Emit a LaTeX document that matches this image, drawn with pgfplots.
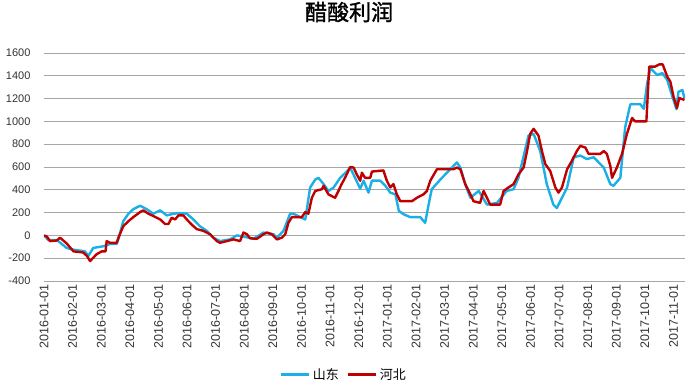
\documentclass[border=0pt]{standalone}
\usepackage{fontspec}
\setmainfont{Liberation Sans}
\newfontfamily\cjk{Noto Sans CJK SC}
\newfontfamily\cjktitle[FakeBold=1.5]{Noto Sans CJK SC}
\usepackage{pgfplots}
\pgfplotsset{compat=1.18}
\definecolor{sdblue}{RGB}{26,175,230}
\definecolor{hbred}{RGB}{192,0,0}
\definecolor{gridgray}{RGB}{166,166,166}
\begin{document}
\begin{tikzpicture}
\begin{axis}[
  at={(0pt,0pt)}, anchor=south west,
  scale only axis, width=641pt, height=228pt,
  xmin=0, xmax=22.4, ymin=-400, ymax=1600,
  ytick={-400,-200,...,1600},
  xtick={0,...,22},
  xticklabels={2016-01-01,2016-02-01,2016-03-01,2016-04-01,2016-05-01,2016-06-01,2016-07-01,2016-08-01,2016-09-01,2016-10-01,2016-11-01,2016-12-01,2017-01-01,2017-02-01,2017-03-01,2017-04-01,2017-05-01,2017-06-01,2017-07-01,2017-08-01,2017-09-01,2017-10-01,2017-11-01},
  axis line style={draw=none},
  major tick length=0pt,
  ymajorgrids, grid style={gridgray, line width=0.8pt},
  tick label style={font=\fontsize{11}{13}\selectfont, text=black!80},
  xticklabel style={rotate=90, anchor=east, font=\fontsize{12.5}{14}\selectfont},
  yticklabel style={xshift=-10pt},
  /pgf/number format/assume math mode=true,
  /pgf/number format/set thousands separator={},
  title={\cjktitle\fontsize{22}{24}\selectfont 醋酸利润},
  title style={at={(axis description cs:0.476,1)}, anchor=center, yshift=35pt},
  legend style={at={(axis description cs:0.468,0)}, anchor=center, yshift=-94pt, draw=none, legend columns=2, font=\cjk\fontsize{13}{15}\selectfont, /tikz/every even column/.append style={column sep=6pt}},
  legend image code/.code={\draw[#1, line width=3pt] (0pt,0pt) -- (28pt,0pt);},
  every axis plot/.append style={line width=2.4pt, line join=round},
]
\addplot[sdblue] coordinates {(0.00,0) (0.15,-40) (0.45,-40) (0.62,-75) (0.79,-110) (1.03,-125) (1.43,-140) (1.55,-180) (1.72,-110) (2.08,-95) (2.31,-75) (2.54,-75) (2.60,-35) (2.77,125) (2.95,190) (3.12,230) (3.36,260) (3.59,230) (3.82,190) (4.06,220) (4.29,175) (4.52,190) (4.76,195) (4.99,190) (5.22,140) (5.45,80) (5.69,40) (5.92,-20) (6.15,-50) (6.50,-35) (6.74,0) (6.97,-10) (7.32,-30) (7.67,25) (8.02,10) (8.14,-20) (8.37,40) (8.60,190) (8.72,190) (8.95,160) (9.13,140) (9.30,420) (9.48,490) (9.59,505) (9.77,450) (9.94,390) (10.12,420) (10.35,505) (10.58,560) (10.70,595) (11.05,410) (11.17,480) (11.34,375) (11.46,480) (11.75,480) (11.93,435) (12.10,375) (12.28,360) (12.40,215) (12.57,185) (12.80,160) (13.15,160) (13.32,110) (13.44,270) (13.55,405) (13.85,490) (14.08,550) (14.43,640) (14.55,595) (14.72,450) (14.90,330) (15.19,390) (15.48,270) (15.83,285) (16.17,390) (16.41,405) (16.58,505) (16.76,695) (16.93,875) (17.11,890) (17.34,740) (17.57,450) (17.80,270) (17.92,240) (18.10,330) (18.28,420) (18.51,685) (18.74,700) (18.97,670) (19.21,685) (19.56,595) (19.79,450) (19.90,435) (20.14,505) (20.31,950) (20.49,1150) (20.84,1150) (20.96,1110) (21.08,1336) (21.19,1468) (21.43,1407) (21.61,1424) (21.78,1363) (21.96,1216) (22.10,1108) (22.17,1260) (22.31,1275) (22.38,1205)};
\addlegendentry{山东}
\addplot[hbred] coordinates {(0.00,0) (0.10,-10) (0.21,-50) (0.45,-45) (0.56,-20) (0.79,-70) (1.03,-140) (1.37,-150) (1.50,-180) (1.61,-225) (1.84,-165) (2.02,-140) (2.15,-140) (2.19,-50) (2.31,-65) (2.54,-65) (2.60,-20) (2.77,80) (2.95,125) (3.12,160) (3.36,205) (3.47,220) (3.65,190) (3.82,170) (4.06,140) (4.23,100) (4.35,100) (4.46,155) (4.58,140) (4.70,175) (4.87,175) (4.99,140) (5.16,95) (5.34,55) (5.57,40) (5.80,10) (6.04,-50) (6.15,-65) (6.39,-50) (6.62,-35) (6.85,-50) (6.97,25) (7.09,10) (7.20,-25) (7.44,-30) (7.67,10) (7.79,25) (7.96,10) (8.14,-35) (8.31,-20) (8.43,10) (8.54,110) (8.66,160) (9.01,160) (9.13,205) (9.24,190) (9.36,330) (9.48,390) (9.71,405) (9.77,435) (9.94,360) (10.17,330) (10.29,390) (10.40,450) (10.52,505) (10.70,600) (10.82,595) (10.93,535) (11.05,480) (11.11,550) (11.22,505) (11.40,505) (11.46,560) (11.86,570) (11.98,480) (12.10,420) (12.21,450) (12.33,360) (12.45,300) (12.86,300) (13.03,330) (13.26,360) (13.38,390) (13.50,480) (13.73,580) (14.31,580) (14.43,595) (14.55,580) (14.72,450) (14.90,360) (15.01,300) (15.24,285) (15.36,390) (15.48,330) (15.59,270) (15.94,270) (16.06,390) (16.23,420) (16.41,450) (16.58,535) (16.76,595) (16.88,740) (16.99,890) (17.11,935) (17.28,875) (17.40,740) (17.52,625) (17.69,565) (17.87,420) (17.98,375) (18.10,420) (18.28,580) (18.45,655) (18.62,740) (18.74,785) (18.92,770) (19.03,715) (19.44,715) (19.56,740) (19.67,715) (19.79,610) (19.85,505) (20.02,595) (20.20,715) (20.37,890) (20.55,1030) (20.66,1000) (21.05,1000) (21.15,1480) (21.35,1480) (21.50,1500) (21.62,1500) (21.78,1392) (21.89,1348) (22.00,1216) (22.12,1117) (22.20,1205) (22.38,1188)};
\addlegendentry{河北}
\end{axis}
\pgfresetboundingbox
\path (-44pt,-104pt) rectangle (653pt,281pt);
\end{tikzpicture}
\end{document}
